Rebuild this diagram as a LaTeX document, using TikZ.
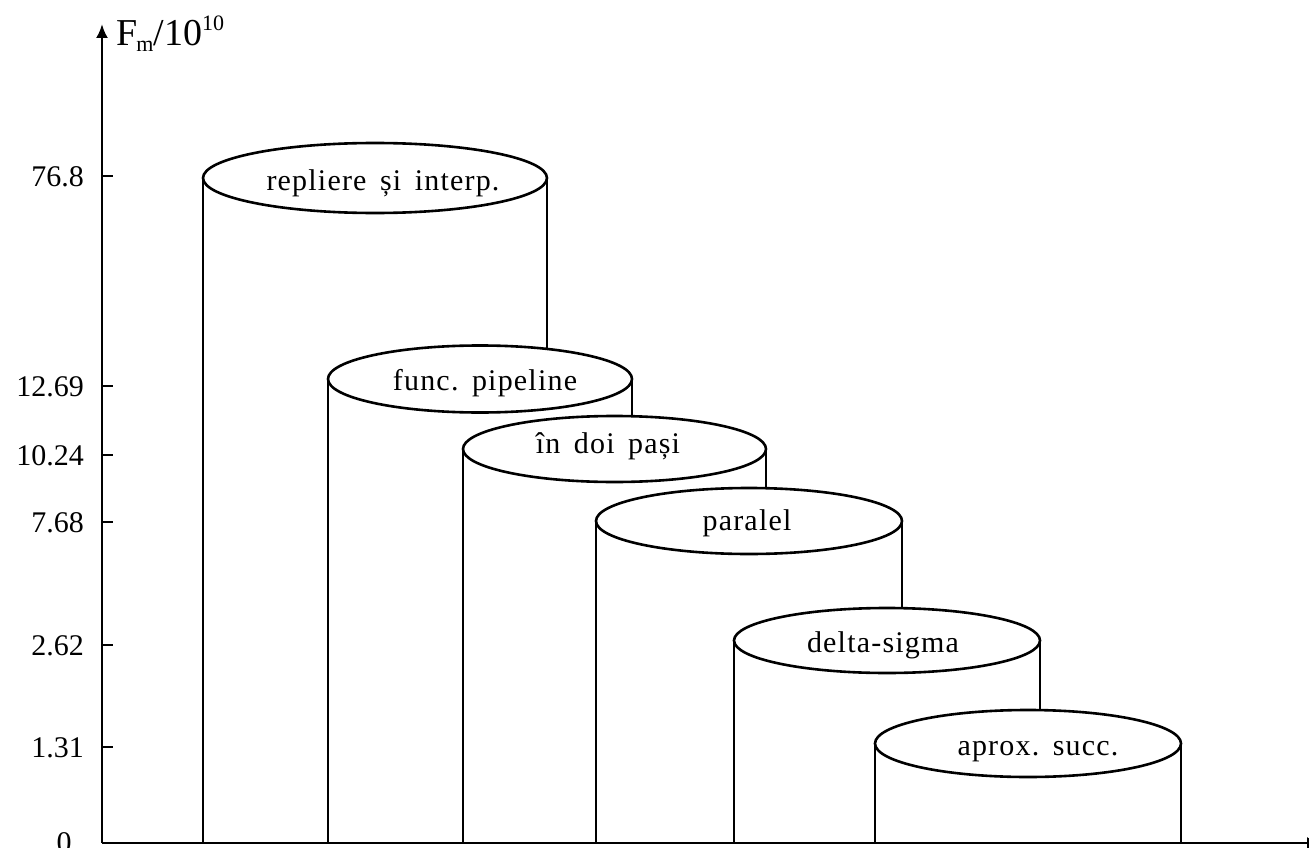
\documentclass[tikz,border=0pt]{standalone}
\usepackage{fontspec}
\setmainfont{Liberation Serif}
\newfontfamily\lblfont[LetterSpace=4.0]{Liberation Serif}
\usetikzlibrary{shapes.geometric,arrows.meta}
\newcommand\wsp{\hspace{0.45em}}
\tikzset{
  ln/.style={line width=2.6pt, line cap=butt},
  cyltop/.style={ellipse, draw, line width=2.6pt, fill=white, inner sep=0pt, outer sep=0pt},
  cyllbl/.style={anchor=base, inner sep=0pt, font=\lblfont\fontsize{30}{34}\selectfont},
  ticklbl/.style={anchor=base east, inner sep=0pt, font=\fontsize{30}{34}\selectfont},
}
\newcommand\drawcyl[5]{%
  \coordinate (#1-w) at ({#2-#4},#3);
  \coordinate (#1-e) at ({#2+#4},#3);
  \fill[white] (#1-w) rectangle (#1-e |- O);
  \draw[ln] (#1-w) -- (#1-w |- O) (#1-e) -- (#1-e |- O);
  \node[cyltop, minimum width={2*#4}, minimum height={2*#5}] (#1) at (#2,#3) {};
}
\begin{document}
\begin{tikzpicture}[x=1pt,y=-1pt]
\useasboundingbox[fill=white] (0,0) rectangle (1309,848);
\coordinate (O) at (102,843);
\coordinate (ytop) at (102,24);
\coordinate (xend) at (1321,843);
% cylinders, back to front
\drawcyl{c1}{375}{178}{172}{35}
\node[cyllbl] (t1) at (383,190) {repliere\wsp și\wsp interp.};
\drawcyl{c2}{480}{379}{152}{33.5}
\node[cyllbl] (t2) at (485,390) {func.\wsp pipeline};
\drawcyl{c3}{614.5}{449}{151.5}{33}
\node[cyllbl] (t3) at (608,453) {în\wsp doi\wsp pași};
\drawcyl{c4}{749}{521}{153}{33}
\node[cyllbl] (t4) at (747,530) {paralel};
\drawcyl{c5}{887}{640.5}{153}{32.5}
\node[cyllbl] (t5) at (883,652) {delta-sigma};
\drawcyl{c6}{1028}{743.5}{153}{33.5}
\node[cyllbl] (t6) at (1038,755) {aprox.\wsp succ.};
% axes
\draw[ln,-{Latex[length=14pt,width=12pt]}] (O) -- (ytop);
\draw[ln,-{Latex[length=14pt,width=12pt]}] (O) -- (xend);
\node[anchor=base west, inner sep=0pt, font=\fontsize{38}{42}\selectfont] (ylbl) at (116,46)
  {F\kern-1pt\raisebox{-6pt}{\fontsize{22}{22}\selectfont m}/10\raisebox{15pt}{\fontsize{22}{22}\selectfont 10}};
% ticks
\foreach \v/\y in {76.8/176, 12.69/386, 10.24/455, 7.68/522, 2.62/645, 1.31/747}{
  \draw[ln] (102,\y) -- (113,\y);
  \node[ticklbl] (tk-\y) at (84,\y+10) {\v};
}
\node[anchor=base, inner sep=0pt, font=\fontsize{30}{34}\selectfont] (zero) at (64,852) {0};
\end{tikzpicture}
\end{document}
